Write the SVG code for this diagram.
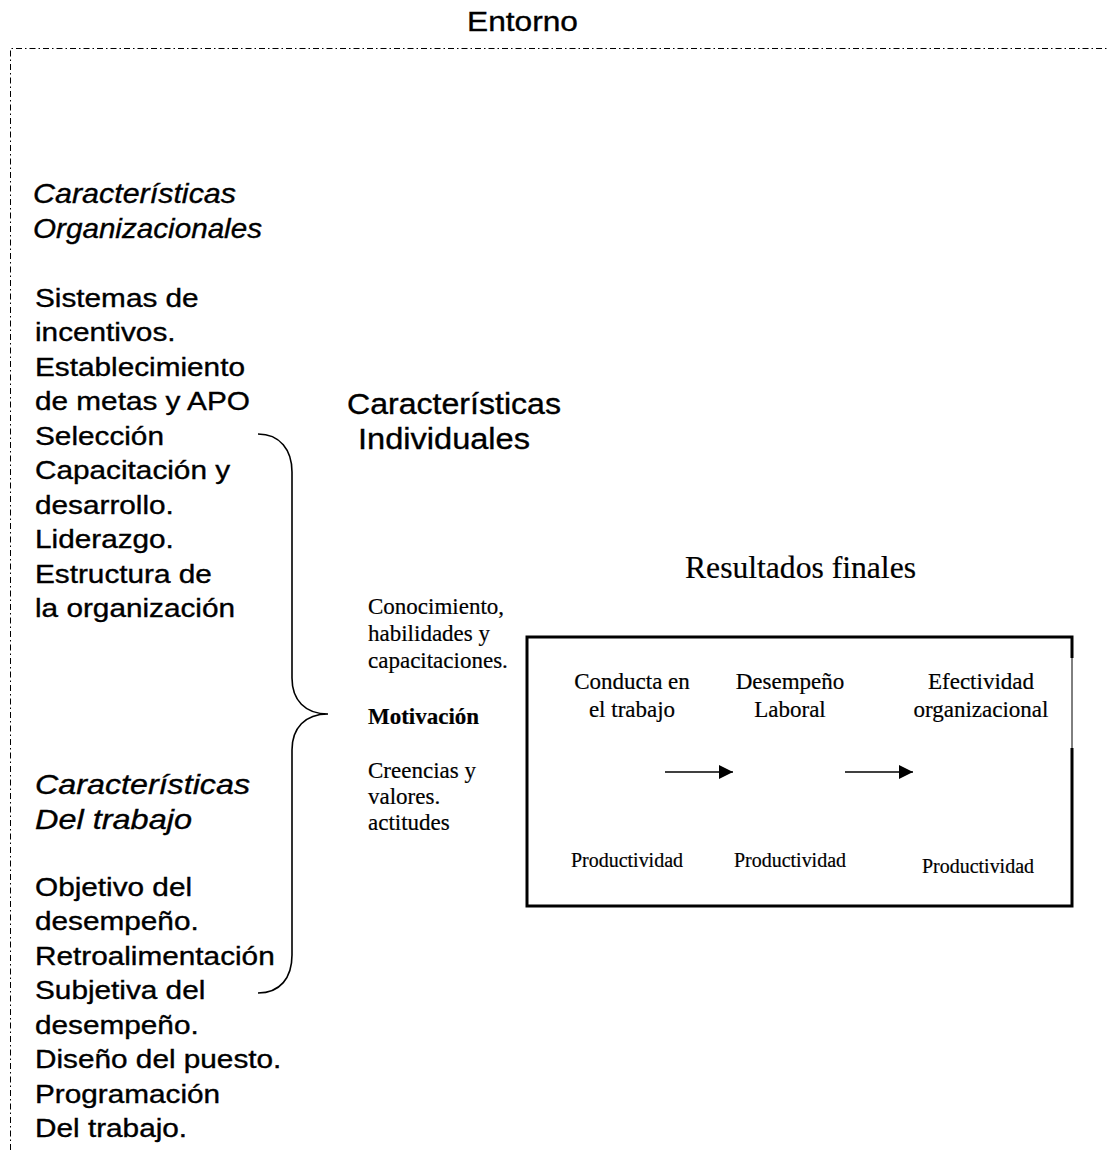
<svg xmlns="http://www.w3.org/2000/svg" width="1109" height="1150" viewBox="0 0 1109 1150">
<style>
.sans{font-family:"Liberation Sans",Arial,sans-serif;fill:#000;stroke:#000;stroke-width:0.35}
.serif{font-family:"Liberation Serif","Times New Roman",serif;fill:#000;stroke:#000;stroke-width:0.2}
.list{font-size:25px}
.ital{font-style:italic;font-size:28px}
.tnr{font-size:23px}
.prod{font-size:20px}
.border{fill:none;stroke:#000;stroke-width:1;stroke-dasharray:6 3 1.5 3}
.conn{fill:none;stroke:#000;stroke-width:1.6}
</style>
<defs>
<marker id="arrow" viewBox="0 0 10 10" refX="10" refY="5" markerWidth="14" markerHeight="14" markerUnits="userSpaceOnUse" orient="auto">
<path d="M0,0 L10,5 L0,10 z" fill="#000"/>
</marker>
</defs>
<rect width="1109" height="1150" fill="#fff"/>

<g id="entorno">
<path class="border" d="M10.5,1150 L10.5,48.5 L1109,48.5"/>
<text class="sans" x="467" y="31" font-size="27" textLength="111" lengthAdjust="spacingAndGlyphs">Entorno</text>
</g>

<g id="caracteristicas-organizacionales">
<text class="sans ital" x="33" y="203" textLength="203" lengthAdjust="spacingAndGlyphs">Características</text>
<text class="sans ital" x="33" y="238" textLength="229" lengthAdjust="spacingAndGlyphs">Organizacionales</text>
<g transform="translate(35,0) scale(1.19,1)">
<text class="sans list" x="0" y="307">Sistemas de</text>
<text class="sans list" x="0" y="341.5">incentivos.</text>
<text class="sans list" x="0" y="376">Establecimiento</text>
<text class="sans list" x="0" y="410.5">de metas y APO</text>
<text class="sans list" x="0" y="445">Selección</text>
<text class="sans list" x="0" y="479.5">Capacitación y</text>
<text class="sans list" x="0" y="514">desarrollo.</text>
<text class="sans list" x="0" y="548.5">Liderazgo.</text>
<text class="sans list" x="0" y="583">Estructura de</text>
<text class="sans list" x="0" y="617.5">la organización</text>
</g>
</g>

<g id="caracteristicas-trabajo">
<text class="sans ital" x="35" y="794" font-size="30" textLength="215" lengthAdjust="spacingAndGlyphs">Características</text>
<text class="sans ital" x="35" y="829" font-size="30" textLength="157" lengthAdjust="spacingAndGlyphs">Del trabajo</text>
<g transform="translate(35,0) scale(1.19,1)">
<text class="sans list" x="0" y="896">Objetivo del</text>
<text class="sans list" x="0" y="930.5">desempeño.</text>
<text class="sans list" x="0" y="965">Retroalimentación</text>
<text class="sans list" x="0" y="999.5">Subjetiva del</text>
<text class="sans list" x="0" y="1034">desempeño.</text>
<text class="sans list" x="0" y="1068.5">Diseño del puesto.</text>
<text class="sans list" x="0" y="1103">Programación</text>
<text class="sans list" x="0" y="1137.5">Del trabajo.</text>
</g>
</g>

<g id="caracteristicas-individuales">
<text class="sans" x="347" y="414" font-size="29" textLength="214" lengthAdjust="spacingAndGlyphs" stroke-width="0.6">Características</text>
<text class="sans" x="358" y="449" font-size="29" textLength="172" lengthAdjust="spacingAndGlyphs" stroke-width="0.6">Individuales</text>
<text class="serif tnr" x="368" y="614">Conocimiento,</text>
<text class="serif tnr" x="368" y="641">habilidades y</text>
<text class="serif tnr" x="368" y="668">capacitaciones.</text>
<text class="serif tnr" x="368" y="724" font-weight="bold">Motivación</text>
<text class="serif tnr" x="368" y="778">Creencias y</text>
<text class="serif tnr" x="368" y="804">valores.</text>
<text class="serif tnr" x="368" y="830">actitudes</text>
</g>

<g id="resultados-finales">
<text class="serif" x="685" y="578" font-size="31" textLength="231" lengthAdjust="spacingAndGlyphs" stroke-width="0.5">Resultados finales</text>
<path d="M1072,658 L1072,637 L527,637 L527,906 L1072,906 L1072,748" fill="none" stroke="#000" stroke-width="3"/>
<path d="M1072,658 L1072,748" fill="none" stroke="#000" stroke-width="1"/>
<text class="serif tnr" x="632" y="689" text-anchor="middle">Conducta en</text>
<text class="serif tnr" x="632" y="717" text-anchor="middle">el trabajo</text>
<text class="serif tnr" x="790" y="689" text-anchor="middle">Desempeño</text>
<text class="serif tnr" x="790" y="717" text-anchor="middle">Laboral</text>
<text class="serif tnr" x="981" y="689" text-anchor="middle">Efectividad</text>
<text class="serif tnr" x="981" y="717" text-anchor="middle">organizacional</text>
<text class="serif prod" x="571" y="867" textLength="112" lengthAdjust="spacingAndGlyphs">Productividad</text>
<text class="serif prod" x="734" y="867" textLength="112" lengthAdjust="spacingAndGlyphs">Productividad</text>
<text class="serif prod" x="922" y="873" textLength="112" lengthAdjust="spacingAndGlyphs">Productividad</text>
</g>

<g id="connectors">
<path class="conn" d="M258,434 C280,434 292,450 292,472 L292,678 C292,700 305,714 328,714 C305,714 292,728 292,750 L292,955 C292,978 280,993 258,993"/>
<line class="conn" x1="665" y1="772" x2="733" y2="772" marker-end="url(#arrow)"/>
<line class="conn" x1="845" y1="772" x2="913" y2="772" marker-end="url(#arrow)"/>
</g>
</svg>
